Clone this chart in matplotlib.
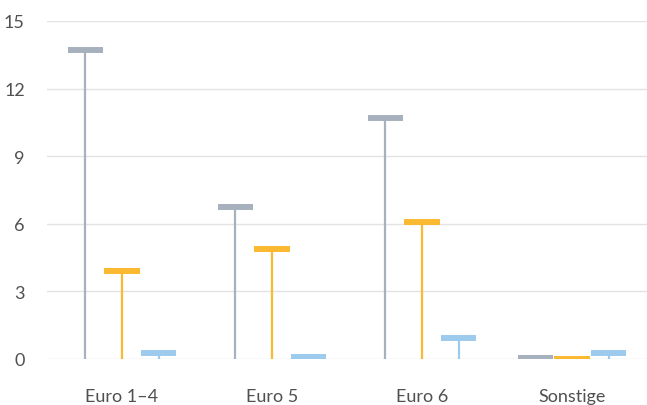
import numpy as np
import matplotlib.pyplot as plt

# Data
categories = ["Euro 1–4", "Euro 5", "Euro 6", "Sonstige"]
gray_vals = [13.7, 6.75, 10.7, 0.05]
orange_vals = [3.9, 4.9, 6.1, 0.0]
blue_vals = [0.28, 0.1, 0.94, 0.27]

colors = ["#a6b1bd", "#fbb931", "#9dcbee"]
series = [gray_vals, orange_vals, blue_vals]
offsets = [-0.245, 0.0, 0.245]

plt.rcParams['font.family'] = ['Lato', 'DejaVu Sans']

fig = plt.figure(figsize=(6.47, 4.06), dpi=100)
ax = fig.add_axes([47 / 647, 1 - 360 / 406, 600 / 647, 338 / 406])

x = np.arange(len(categories))
cap_w = 0.118
for vals, col, off in zip(series, colors, offsets):
    xs = x + off
    ax.vlines(xs, 0, vals, color=col, lw=1.6, zorder=3)
    ax.hlines(vals, xs - cap_w, xs + cap_w, color=col, lw=4.3, zorder=4,
              capstyle='butt')

ax.set_xlim(-0.5, 3.5)
ax.set_ylim(0, 15)
ax.set_yticks([0, 3, 6, 9, 12, 15])
ax.set_xticks(x)
ax.set_xticklabels(categories, fontsize=13, color="#505050")
for lab in ax.get_yticklabels():
    lab.set_fontsize(13)
    lab.set_color("#505050")
ax.tick_params(axis='both', length=0)
ax.tick_params(axis='y', pad=16)
ax.tick_params(axis='x', pad=21)
ax.grid(axis='y', color="#e3e3e3", lw=1)
ax.set_axisbelow(True)
for s in ax.spines.values():
    s.set_visible(False)

fig.savefig("out.png", dpi=100)
